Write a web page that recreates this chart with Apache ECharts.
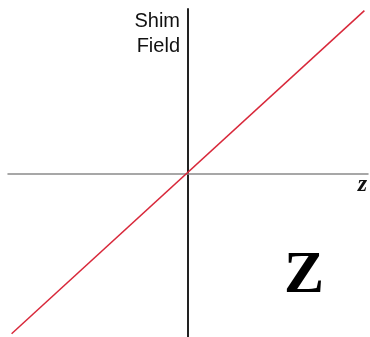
<!DOCTYPE html>
<html>
<head>
<meta charset="utf-8">
<script src="https://cdn.jsdelivr.net/npm/echarts@6/dist/echarts.min.js"></script>
<style>
  html, body { margin: 0; padding: 0; background: #fff; }
  #chart { width: 370px; height: 337px; }
</style>
</head>
<body>
<div id="chart"></div>
<script>
// shim field grows linearly with z
var zValues = [-0.98, 0.98];
var fieldValues = [-0.97, 0.99];
var xName = 'z';
var yName = 'Shim\nField';
var bigLabel = 'Z';

var myChart = echarts.init(document.getElementById('chart'));

var lineData = [];
for (var i = 0; i < zValues.length; i++) {
    lineData.push([zValues[i], fieldValues[i]]);
}

var option = {
    animation: false,
    grid: {
        left: 8,
        right: 2,
        top: 9,
        bottom: 0
    },
    xAxis: {
        type: 'value',
        min: -1,
        max: 1,
        name: xName,
        nameLocation: 'end',
        nameGap: -1,
        nameTextStyle: {
            fontFamily: 'Liberation Serif',
            fontStyle: 'italic',
            fontWeight: 'bold',
            fontSize: 24,
            color: '#111',
            align: 'right',
            verticalAlign: 'top',
            padding: [-1, 0, 0, 0]
        },
        axisLine: {
            onZero: true,
            lineStyle: { color: '#8a8a8a', width: 1.5 }
        },
        axisTick: { show: false },
        axisLabel: { show: false },
        splitLine: { show: false }
    },
    yAxis: {
        type: 'value',
        min: -0.99,
        max: 1,
        name: yName,
        nameLocation: 'end',
        nameGap: 0,
        nameTextStyle: {
            fontFamily: 'Liberation Sans',
            fontSize: 20,
            lineHeight: 25,
            color: '#111',
            align: 'right',
            verticalAlign: 'top',
            padding: [0, 8, 0, 0]
        },
        axisLine: {
            onZero: true,
            lineStyle: { color: '#222', width: 2 }
        },
        axisTick: { show: false },
        axisLabel: { show: false },
        splitLine: { show: false }
    },
    graphic: [{
        type: 'text',
        left: 284,
        top: 246,
        style: {
            text: bigLabel,
            fontFamily: 'Liberation Serif',
            fontWeight: 'bold',
            fontSize: 60,
            fill: '#000'
        }
    }],
    series: [{
        type: 'line',
        data: lineData,
        symbol: 'none',
        lineStyle: { color: '#d8283a', width: 1.5 }
    }]
};

myChart.setOption(option);
</script>
</body>
</html>
